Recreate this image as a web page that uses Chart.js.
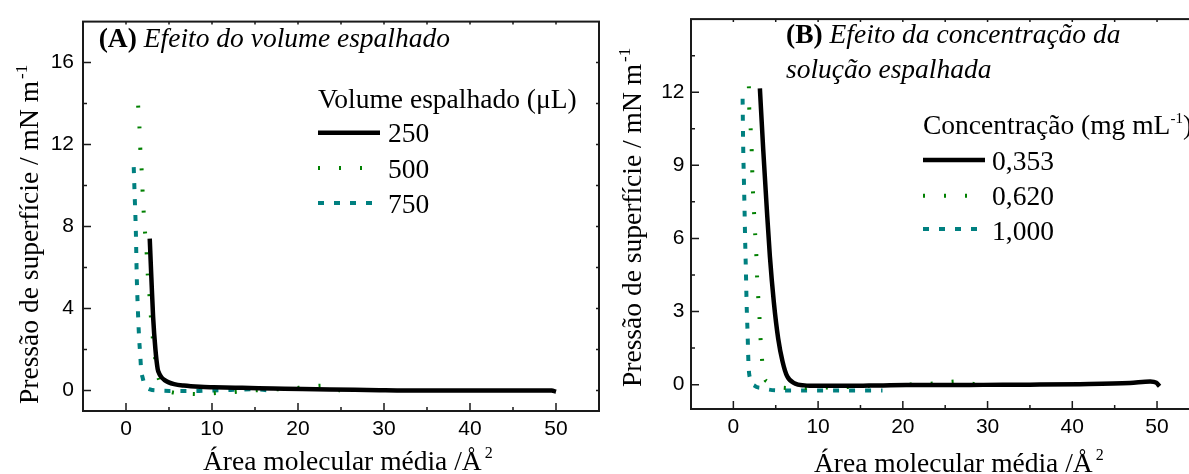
<!DOCTYPE html>
<html><head><meta charset="utf-8">
<script src="https://cdn.jsdelivr.net/npm/chart.js@4.4.0/dist/chart.umd.min.js"></script>
<style>
html,body{margin:0;padding:0;background:#fff;overflow:hidden;width:1189px;height:474px;position:relative;}
canvas{position:absolute;top:0;}
#cA{left:0px}
#cB{left:600px}
</style></head><body>
<canvas id="cA" width="602" height="474"></canvas>
<canvas id="cB" width="602" height="474"></canvas>
<script>
// ---- tick labels ----
const xTicks = [0, 10, 20, 30, 40, 50];
const xMinor = [5, 15, 25, 35, 45];
const yTicksA = [0, 4, 8, 12, 16];
const yMinorA = [2, 6, 10, 14];
const yTicksB = [0, 3, 6, 9, 12];
const yMinorB = [1.5, 4.5, 7.5, 10.5, 13.5];

// ---- Panel A: volume espalhado (µL) ----
const labelsA = ['250', '500', '750'];
const a250x = [2.76, 2.95, 3.15, 3.42, 3.68, 3.85, 4.1, 4.45, 4.9, 5.6, 6.7, 8.6, 10.2, 13.5, 17.1, 20.5, 23.7, 28, 34.5, 40, 45, 49.5, 50.0];
const a250y = [7.41, 5.5, 3.6, 2.01, 1.06, 0.84, 0.66, 0.52, 0.41, 0.31, 0.24, 0.18, 0.16, 0.13, 0.10, 0.07, 0.05, 0.03, 0.0, 0.0, 0.0, 0.0, -0.06];
const a500x = [1.41, 1.56, 1.65, 1.80, 1.91, 2.03, 2.18, 2.38, 2.49, 2.69, 2.84, 3.04, 3.30, 3.62, 4.1, 4.77, 6.7, 8.75, 10.5, 12.6, 14.7, 16.7, 18.9, 20.9, 22.9, 24.9];
const a500y = [13.9, 12.9, 11.9, 10.9, 9.9, 8.9, 7.9, 6.9, 5.9, 4.9, 3.9, 2.9, 1.9, 0.9, 0.3, 0.0, -0.14, -0.17, -0.12, -0.07, 0.0, 0.05, 0.08, 0.17, 0.24, 0.0];
const a750x = [0.90, 1.02, 1.14, 1.25, 1.37, 1.53, 1.65, 1.76, 1.95, 2.18, 2.8, 3.68, 5.08, 6.7, 8.13, 9.5, 10.95, 12.2, 13.6, 15.0, 16.4];
const a750y = [10.9, 9.37, 7.86, 5.57, 4.05, 2.52, 1.78, 1.03, 0.6, 0.29, 0.05, 0.0, -0.02, -0.02, -0.02, 0.0, 0.01, 0.03, 0.05, 0.06, 0.01];

// ---- Panel B: concentração (mg mL-1) ----
const labelsB = ['0,353', '0,620', '1,000'];
const b353x = [3.13, 3.52, 3.92, 4.31, 4.78, 5.29, 5.81, 6.35, 7.26, 8.4, 9.82, 12.6, 16, 20.4, 25, 29.5, 35, 40.9, 46.8, 49.2, 49.9, 50.3];
const b353y = [12.16, 9.66, 7.36, 5.26, 3.37, 1.89, 0.94, 0.34, 0.05, -0.03, -0.05, -0.05, -0.04, -0.02, -0.02, -0.01, 0.0, 0.02, 0.07, 0.13, 0.08, -0.07];
const b620x = [1.83, 1.87, 2.03, 2.15, 2.22, 2.30, 2.42, 2.54, 2.69, 2.77, 2.89, 3.05, 3.16, 3.33, 3.52, 4.1, 4.9, 7.06, 9.42, 11.5, 13.2, 15.3, 17.6, 19.9, 22.0, 24.2, 26.4, 28.5];
const b620y = [12.24, 11.39, 10.56, 9.73, 8.88, 8.05, 7.2, 6.36, 5.51, 4.68, 3.83, 2.99, 2.16, 1.31, 0.47, 0.1, -0.07, -0.14, -0.14, -0.11, -0.1, -0.07, -0.03, 0.0, 0.02, 0.06, 0.13, 0.02];
const b1000x = [1.09, 1.16, 1.24, 1.32, 1.39, 1.48, 1.56, 1.68, 1.79, 2.03, 2.5, 3.33, 4.9, 7.9, 11, 14.5, 17.6];
const b1000y = [11.73, 9.75, 8.45, 7.18, 5.93, 4.65, 3.37, 2.09, 0.81, 0.2, -0.05, -0.14, -0.23, -0.24, -0.24, -0.24, -0.24];

const SERIF = 'Liberation Serif, Times New Roman, serif';
const SANS = 'Liberation Sans, Arial, sans-serif';
const styles = [
  {color: '#000000', width: 4.5, dash: []},
  {color: '#008000', width: 4, dash: [2, 19]},
  {color: '#008080', width: 4, dash: [6, 10]}
];

function rich(ctx, parts, x, y) {
  let cx = x;
  parts.forEach(p => {
    ctx.font = p.f;
    cx += (p.dx || 0);
    ctx.fillText(p.t, cx, y - (p.up || 0));
    cx += ctx.measureText(p.t).width;
  });
}

function framePlugin(L) {
  return {
    id: 'frame' + L.id,
    afterDraw(chart) {
      const ctx = chart.ctx, a = chart.chartArea, x = chart.scales.x, y = chart.scales.y;
      ctx.save();
      ctx.strokeStyle = '#1a1a1a';
      ctx.lineWidth = 2;
      ctx.strokeRect(a.left, a.top, a.right - a.left, a.bottom - a.top);
      ctx.lineWidth = 1.5;
      ctx.beginPath();
      L.xMajor.forEach(v => { const p = x.getPixelForValue(v); ctx.moveTo(p, a.bottom); ctx.lineTo(p, a.bottom - 8); ctx.moveTo(p, a.top); ctx.lineTo(p, a.top + 3); });
      L.xMinor.forEach(v => { const p = x.getPixelForValue(v); ctx.moveTo(p, a.bottom); ctx.lineTo(p, a.bottom - 4); ctx.moveTo(p, a.top); ctx.lineTo(p, a.top + 3); });
      L.yMajor.forEach(v => { const p = y.getPixelForValue(v); ctx.moveTo(a.left, p); ctx.lineTo(a.left + 8, p); ctx.moveTo(a.right, p); ctx.lineTo(a.right - 3, p); });
      L.yMinor.forEach(v => { const p = y.getPixelForValue(v); ctx.moveTo(a.left, p); ctx.lineTo(a.left + 4, p); ctx.moveTo(a.right, p); ctx.lineTo(a.right - 3, p); });
      ctx.stroke();

      ctx.fillStyle = '#000';
      ctx.textAlign = 'left';
      ctx.textBaseline = 'alphabetic';
      ctx.save();
      ctx.translate(L.yTitle[0], L.yTitle[1]);
      ctx.rotate(-Math.PI / 2);
      rich(ctx, [
        {t: 'Pressão de superfície / mN m', f: '27.5px ' + SERIF},
        {t: '-1', f: '17px ' + SERIF, up: 11, dx: 2}
      ], 0, 0);
      ctx.restore();
      rich(ctx, [
        {t: 'Área molecular média /Å', f: '27.5px ' + SERIF},
        {t: '2', f: '16px ' + SERIF, up: 12, dx: 3}
      ], L.xTitle[0], L.xTitle[1]);
      L.panel.forEach(line => rich(ctx, line.parts, line.x, line.y));
      rich(ctx, L.legTitle, L.leg.x, L.leg.titleY);
      chart.data.datasets.forEach((ds, i) => {
        const sy = L.leg.sampleY[i];
        ctx.save();
        ctx.strokeStyle = ds.borderColor;
        ctx.lineWidth = ds.borderWidth;
        ctx.setLineDash(ds.borderDash || []);
        ctx.beginPath();
        ctx.moveTo(L.leg.x, sy);
        ctx.lineTo(L.leg.x + L.leg.len, sy);
        ctx.stroke();
        ctx.restore();
        ctx.font = '27.5px ' + SERIF;
        ctx.fillText(ds.label, L.leg.textX, L.leg.textY[i]);
      });
      ctx.restore();
    }
  };
}

function makeChart(id, series, labels, yTicks, yMin, yMax, L) {
  return new Chart(document.getElementById(id), {
    type: 'scatter',
    data: {
      datasets: series.map((s, i) => ({
        label: labels[i],
        data: s[0].map((v, k) => ({x: v, y: s[1][k]})),
        showLine: true, pointRadius: 0, fill: false,
        borderColor: styles[i].color, borderWidth: styles[i].width, borderDash: styles[i].dash,
        cubicInterpolationMode: 'monotone'
      }))
    },
    options: {
      responsive: false, animation: false, devicePixelRatio: 1,
      layout: {padding: {left: 0, right: L.padR, top: L.padT, bottom: 0}},
      plugins: {legend: {display: false}, tooltip: {enabled: false}, title: {display: false}},
      scales: {
        x: {
          type: 'linear', min: -5, max: 55,
          afterBuildTicks: s => { s.ticks = xTicks.map(v => ({value: v})); },
          afterFit: s => { s.height = L.xH; },
          grid: {display: false, drawTicks: false}, border: {display: false},
          ticks: {font: {family: SANS, size: 21}, color: '#000', padding: L.xPad, maxRotation: 0, autoSkip: false}
        },
        y: {
          type: 'linear', min: yMin, max: yMax,
          afterBuildTicks: s => { s.ticks = yTicks.map(v => ({value: v})); },
          afterFit: s => { s.width = L.yW; },
          grid: {display: false, drawTicks: false}, border: {display: false},
          ticks: {font: {family: SANS, size: 21}, color: '#000', padding: L.yPad, autoSkip: false}
        }
      }
    },
    plugins: [framePlugin(L)]
  });
}

makeChart('cA', [[a250x, a250y], [a500x, a500y], [a750x, a750y]], labelsA, yTicksA, -1, 18, {
  id: 'A', padR: 3, padT: 11, xH: 63, yW: 83, xPad: 6, yPad: 9,
  xMajor: xTicks, xMinor: xMinor, yMajor: yTicksA, yMinor: yMinorA,
  yTitle: [38, 404], xTitle: [203, 470],
  panel: [{x: 98.7, y: 46.7, parts: [
    {t: '(A)', f: 'bold 27.5px ' + SERIF},
    {t: ' Efeito do volume espalhado', f: 'italic 27.5px ' + SERIF}]}],
  legTitle: [{t: 'Volume espalhado (μL)', f: '27.5px ' + SERIF}],
  leg: {x: 318, len: 62, textX: 388, titleY: 108, sampleY: [132.7, 168, 203], textY: [142, 177.5, 213]}
});

makeChart('cB', [[b353x, b353y], [b620x, b620y], [b1000x, b1000y]], labelsB, yTicksB, -1, 15, {
  id: 'B', padR: 2.6, padT: 12.7, xH: 65, yW: 91, xPad: 5.7, yPad: 6.5,
  xMajor: xTicks, xMinor: xMinor, yMajor: yTicksB, yMinor: yMinorB,
  yTitle: [41, 387], xTitle: [214, 472],
  panel: [
    {x: 186, y: 43.3, parts: [
      {t: '(B)', f: 'bold 27.5px ' + SERIF},
      {t: ' Efeito da concentração da', f: 'italic 27.5px ' + SERIF}]},
    {x: 186, y: 78, parts: [{t: 'solução espalhada', f: 'italic 27.5px ' + SERIF}]}
  ],
  legTitle: [
    {t: 'Concentração (mg mL', f: '27.5px ' + SERIF},
    {t: '-1', f: '15px ' + SERIF, up: 11},
    {t: ')', f: '27.5px ' + SERIF}
  ],
  leg: {x: 323, len: 62, textX: 392, titleY: 134, sampleY: [160, 195.7, 229], textY: [170, 205, 239.5]}
});
</script>
</body></html>
